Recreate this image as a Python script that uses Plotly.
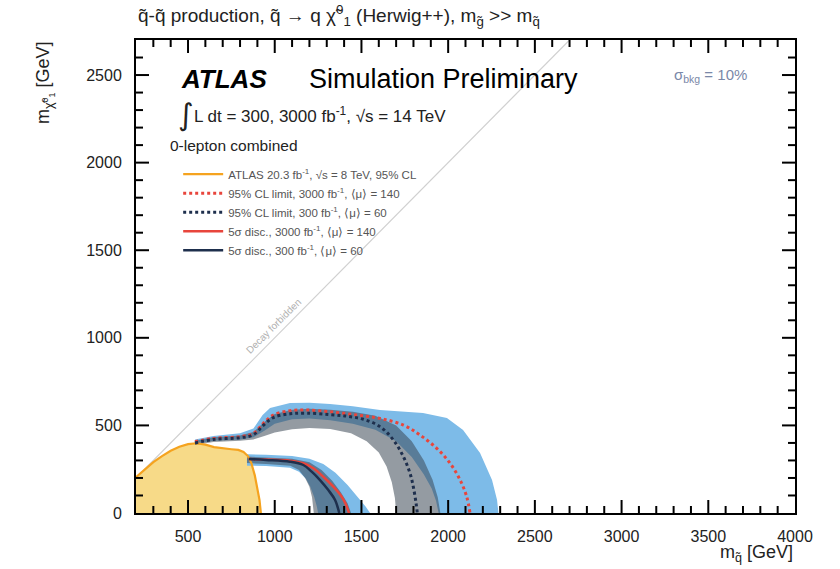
import plotly.graph_objects as go

# ---------------- data ----------------
x_range = [200, 4000]
y_range = [0, 2700]
major_step = 500
minor_step = 100

# kinematic limit (m_chi = m_squark)
diag_x = [200, 2700]
diag_y = [200, 2700]

# ATLAS 20.3 fb-1, 8 TeV observed limit
atlas8_x = [200, 250, 300, 350, 400, 450, 500, 550, 600, 650, 700, 750, 790, 820, 845, 865, 885, 900, 912, 920]
atlas8_y = [205, 250, 290, 325, 355, 378, 393, 398, 390, 376, 368, 364, 360, 348, 325, 285, 215, 145, 75, 0]

# 95% CL expected limit, 3000 fb-1
lim3000_x = [540, 646, 800, 877, 934, 992, 1088, 1184, 1319, 1473, 1607, 1742, 1838, 1934, 2011, 2069, 2107, 2126]
lim3000_y = [407, 426, 436, 455, 512, 559, 584, 588, 578, 559, 540, 502, 445, 369, 284, 188, 93, 0]
# 95% CL expected limit, 300 fb-1
lim300_x = [540, 646, 800, 877, 934, 992, 1088, 1184, 1319, 1420, 1511, 1607, 1684, 1742, 1780, 1799, 1815, 1822]
lim300_y = [400, 420, 430, 447, 500, 545, 566, 570, 562, 552, 535, 493, 417, 321, 227, 150, 55, 0]

# 5 sigma discovery, 3000 fb-1
disc3000_x = [850, 950, 1088, 1165, 1223, 1280, 1338, 1386, 1410, 1428]
disc3000_y = [308, 305, 299, 284, 255, 207, 150, 93, 50, 0]
# 5 sigma discovery, 300 fb-1
disc300_x = [850, 950, 1088, 1165, 1213, 1261, 1309, 1348, 1372]
disc300_y = [308, 303, 293, 274, 236, 188, 131, 74, 0]

# uncertainty bands (outer edge "hi", inner edge "lo")
band3000_hi_x = [540, 646, 800, 877, 930, 973, 1088, 1200, 1319, 1450, 1607, 1750, 1855, 1993, 2086, 2184, 2253, 2282, 2290]
band3000_hi_y = [420, 440, 455, 482, 560, 600, 628, 630, 622, 610, 588, 578, 571, 542, 474, 342, 188, 74, 0]
band3000_lo_x = [540, 646, 800, 877, 940, 1000, 1100, 1200, 1320, 1450, 1580, 1700, 1790, 1860, 1905, 1930, 1945]
band3000_lo_y = [395, 412, 420, 432, 470, 510, 535, 540, 530, 510, 475, 410, 320, 220, 140, 70, 0]

band300_hi_x = [540, 646, 800, 877, 940, 1000, 1100, 1200, 1320, 1450, 1580, 1700, 1790, 1860, 1910, 1940, 1955]
band300_hi_y = [412, 432, 442, 462, 520, 565, 590, 595, 590, 578, 555, 500, 410, 300, 190, 90, 0]
band300_lo_x = [540, 646, 800, 877, 940, 1000, 1100, 1200, 1320, 1440, 1530, 1600, 1645, 1675, 1693, 1700]
band300_lo_y = [388, 405, 412, 420, 440, 460, 478, 485, 480, 455, 410, 345, 265, 175, 85, 0]

bd3000_hi_x = [840, 950, 1100, 1200, 1280, 1350, 1420, 1480, 1525, 1550]
bd3000_hi_y = [335, 333, 325, 310, 280, 230, 160, 90, 35, 0]
bd3000_lo_x = [840, 950, 1088, 1140, 1180, 1205, 1228, 1243, 1250]
bd3000_lo_y = [270, 268, 258, 235, 195, 150, 90, 35, 0]

bd300_hi_x = [840, 950, 1100, 1200, 1270, 1330, 1380, 1420, 1440]
bd300_hi_y = [322, 318, 310, 290, 245, 185, 120, 55, 0]
bd300_lo_x = [840, 950, 1090, 1140, 1175, 1200, 1215, 1222, 1225]
bd300_lo_y = [285, 280, 270, 245, 200, 150, 90, 35, 0]

legend_names = [
    "ATLAS 20.3 fb<sup>-1</sup>, √s = 8 TeV, 95% CL",
    "95% CL limit, 3000 fb<sup>-1</sup>, ⟨μ⟩ = 140",
    "95% CL limit, 300 fb<sup>-1</sup>, ⟨μ⟩ = 60",
    "5σ disc., 3000 fb<sup>-1</sup>, ⟨μ⟩ = 140",
    "5σ disc., 300 fb<sup>-1</sup>, ⟨μ⟩ = 60",
]

# ---------------- styles ----------------
ORANGE = "#f5a31f"
YELLOW = "#f7da88"
RED = "#e8453c"
NAVY = "#1e2f4d"
BLUE = "#7dbbe8"
GREY = "rgba(60,72,85,0.55)"
FONT = "Liberation Sans, Arial, sans-serif"
W, H = 840, 569
M = dict(l=136, r=45, t=40, b=56)
PW = W - M["l"] - M["r"]
PH = H - M["t"] - M["b"]


def band(hx, hy, lx, ly):
    return list(hx) + list(reversed(lx)), list(hy) + list(reversed(ly))


fig = go.Figure()

# diagonal
fig.add_trace(go.Scatter(x=diag_x, y=diag_y, mode="lines",
                         line=dict(color="#d0d0d0", width=1.2), showlegend=False, hoverinfo="skip"))

# yellow observed region
fig.add_trace(go.Scatter(x=[atlas8_x[0]] + atlas8_x, y=[0] + atlas8_y, mode="lines", fill="toself",
                         fillcolor=YELLOW, line=dict(width=0), showlegend=False, hoverinfo="skip"))

# blue bands (3000 fb-1)
for hx, hy, lx, ly in [(band3000_hi_x, band3000_hi_y, band3000_lo_x, band3000_lo_y),
                       (bd3000_hi_x, bd3000_hi_y, bd3000_lo_x, bd3000_lo_y)]:
    bx, by = band(hx, hy, lx, ly)
    fig.add_trace(go.Scatter(x=bx, y=by, mode="lines", fill="toself", fillcolor=BLUE,
                             line=dict(width=0), showlegend=False, hoverinfo="skip"))
# grey bands (300 fb-1)
for hx, hy, lx, ly in [(band300_hi_x, band300_hi_y, band300_lo_x, band300_lo_y),
                       (bd300_hi_x, bd300_hi_y, bd300_lo_x, bd300_lo_y)]:
    bx, by = band(hx, hy, lx, ly)
    fig.add_trace(go.Scatter(x=bx, y=by, mode="lines", fill="toself", fillcolor=GREY,
                             line=dict(width=0), showlegend=False, hoverinfo="skip"))

# lines
fig.add_trace(go.Scatter(x=atlas8_x, y=atlas8_y, mode="lines", name=legend_names[0],
                         line=dict(color=ORANGE, width=2.2)))
fig.add_trace(go.Scatter(x=lim3000_x, y=lim3000_y, mode="lines", name=legend_names[1],
                         line=dict(color=RED, width=3, dash="3px,3px", shape="spline")))
fig.add_trace(go.Scatter(x=lim300_x, y=lim300_y, mode="lines", name=legend_names[2],
                         line=dict(color=NAVY, width=3, dash="3px,3px", shape="spline")))
fig.add_trace(go.Scatter(x=disc3000_x, y=disc3000_y, mode="lines", name=legend_names[3],
                         line=dict(color=RED, width=2.5, shape="spline")))
fig.add_trace(go.Scatter(x=disc300_x, y=disc300_y, mode="lines", name=legend_names[4],
                         line=dict(color=NAVY, width=2.5, shape="spline")))

axis_common = dict(showline=True, linecolor="black", linewidth=2, mirror=True,
                   ticks="", tick0=0, dtick=major_step,
                   showgrid=False, zeroline=False,
                   tickfont=dict(family=FONT, size=16, color="#222"))

fig.update_xaxes(range=x_range, ticklabelstandoff=8, **axis_common)
fig.update_yaxes(range=y_range, ticklabelstandoff=9, **axis_common)

# ROOT-style inside tick marks on all four sides (axis decoration)
shapes = []
MAJ, MIN = 13, 7
v = (x_range[0] // minor_step + 1) * minor_step
while v < x_range[1]:
    L = MAJ if v % major_step == 0 else MIN
    for y0, y1 in [(0, L / PH), (1, 1 - L / PH)]:
        shapes.append(dict(type="line", xref="x", yref="paper", x0=v, x1=v, y0=y0, y1=y1,
                           line=dict(color="black", width=2), layer="above"))
    v += minor_step
v = (y_range[0] // minor_step + 1) * minor_step
while v < y_range[1]:
    L = MAJ if v % major_step == 0 else MIN
    for x0, x1 in [(0, L / PW), (1, 1 - L / PW)]:
        shapes.append(dict(type="line", xref="paper", yref="y", y0=v, y1=v, x0=x0, x1=x1,
                           line=dict(color="black", width=2), layer="above"))
    v += minor_step

ann = []
ann.append(dict(x=0, y=1.051, xref="paper", yref="paper", xanchor="left", yanchor="middle",
                text="q̃-q̃ production, q̃ → q χ̃<sup>0</sup><sub>1</sub> (Herwig++), m<sub>g̃</sub> >> m<sub>q̃</sub>",
                font=dict(family=FONT, size=19, color="#222"), showarrow=False))
ann.append(dict(x=0.066, y=0.9175, xref="paper", yref="paper", xanchor="left", yanchor="middle",
                text="<b><i>ATLAS</i></b>", font=dict(family=FONT, size=26, color="black"), showarrow=False))
ann.append(dict(x=0.259, y=0.9175, xref="paper", yref="paper", xanchor="left", yanchor="middle",
                text="Simulation Preliminary", font=dict(family=FONT, size=27, color="black"), showarrow=False))
ann.append(dict(x=0.060, y=0.842, xref="paper", yref="paper", xanchor="left", yanchor="middle",
                text="∫", font=dict(family="DejaVu Sans", size=30, color="#222"), showarrow=False))
ann.append(dict(x=0.085, y=0.842, xref="paper", yref="paper", xanchor="left", yanchor="middle",
                text="L dt = 300, 3000 fb<sup>-1</sup>, √s = 14 TeV",
                font=dict(family=FONT, size=17, color="#222"), showarrow=False))
ann.append(dict(x=0.048, y=0.776, xref="paper", yref="paper", xanchor="left", yanchor="middle",
                text="0-lepton combined", font=dict(family=FONT, size=15.5, color="#222"), showarrow=False))
ann.append(dict(x=0.8725, y=0.926, xref="paper", yref="paper", xanchor="center", yanchor="middle",
                text="σ<sub>bkg</sub> = 10%", font=dict(family=FONT, size=15, color="#7a88a8"), showarrow=False))
ann.append(dict(x=990, y=1067, xref="x", yref="y", xanchor="center", yanchor="middle", textangle=-45,
                text="Decay forbidden", font=dict(family=FONT, size=10, color="#b0b0b0"), showarrow=False))
ann.append(dict(x=1.0, y=-0.085, xref="paper", yref="paper", xanchor="right", yanchor="middle",
                text="m<sub>q̃</sub> [GeV]", font=dict(family=FONT, size=18, color="#222"), showarrow=False))
ann.append(dict(x=-0.138, y=1.0, xref="paper", yref="paper", xanchor="center", yanchor="top", textangle=-90,
                text="m<sub>χ̃<sup>0</sup><sub>1</sub></sub> [GeV]", font=dict(family=FONT, size=18, color="#222"),
                showarrow=False))

fig.update_layout(
    width=W, height=H,
    margin=M,
    paper_bgcolor="white", plot_bgcolor="white",
    annotations=ann,
    shapes=shapes,
    showlegend=True,
    legend=dict(x=0.064, y=0.747, xanchor="left", yanchor="top", bgcolor="rgba(0,0,0,0)",
                font=dict(family=FONT, size=11.5, color="#555"), tracegroupgap=0, itemwidth=40),
)

fig.write_html("out.html")
